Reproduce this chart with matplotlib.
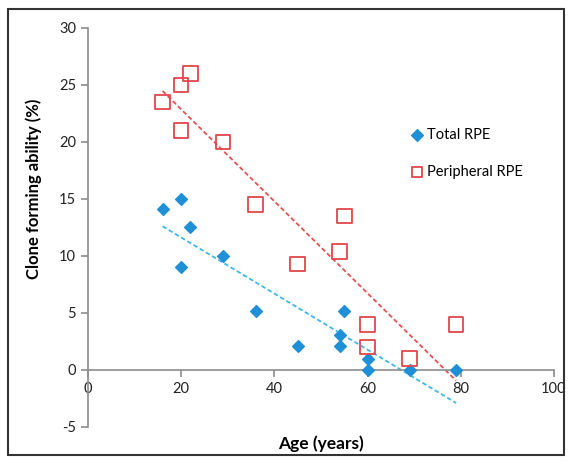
import numpy as np
import matplotlib.pyplot as plt
from matplotlib.patches import Rectangle

plt.rcParams['font.family'] = ['Lato', 'DejaVu Sans']
plt.rcParams['axes.unicode_minus'] = False

# data
age_total = [16, 20, 22, 20, 29, 36, 45, 54, 54, 55, 60, 60, 69, 79]
total_rpe = [14.1, 15, 12.5, 9, 10, 5.2, 2.1, 3.1, 2.1, 5.2, 1, 0, 0, 0]
age_periph = [16, 20, 22, 20, 29, 36, 45, 54, 55, 60, 60, 69, 79]
periph_rpe = [23.5, 25, 26, 21, 20, 14.5, 9.3, 10.4, 13.5, 4, 2, 1, 4]

blue = '#1f8fd6'
red = '#e2474c'

fig = plt.figure(figsize=(5.72, 4.61), dpi=100)
ax = fig.add_axes([0.1538, 0.0738, 0.8147, 0.8655])

# trendlines
for xs, ys, c in [(age_total, total_rpe, '#3cb8e8'), (age_periph, periph_rpe, '#e8504f')]:
    k, b = np.polyfit(xs, ys, 1)
    xx = np.array([min(xs), max(xs)])
    ax.plot(xx, k * xx + b, ls=(0, (2.5, 1.5)), color=c, lw=1.3)

ax.scatter(age_total, total_rpe, marker='D', s=36, color=blue, label='Total RPE', zorder=3)
ax.scatter(age_periph, periph_rpe, marker='s', s=110, facecolor='none', edgecolor=red,
           linewidth=1.3, label='Peripheral RPE', zorder=3)

ax.set_xlim(0, 100)
ax.set_ylim(-5, 30)
ax.set_xticks(range(0, 101, 20))
ax.set_yticks(range(-5, 31, 5))
ax.spines['bottom'].set_position(('data', 0))
ax.spines['top'].set_visible(False)
ax.spines['right'].set_visible(False)
for s in ['left', 'bottom']:
    ax.spines[s].set_color('#8c8c8c')
    ax.spines[s].set_linewidth(1.2)
ax.tick_params(colors='#8c8c8c', labelcolor='#222222', labelsize=10.5, length=5, width=1.2)

ax.set_xlabel('Age (years)', fontsize=12.5, fontweight='bold')
ax.xaxis.set_label_coords(0.5, -0.02)
ax.set_ylabel('Clone forming ability (%)', fontsize=12, fontweight='bold')
ax.yaxis.set_label_coords(-0.099, 0.597)

leg = ax.legend(loc='upper left', bbox_to_anchor=(0.675, 0.765), frameon=False,
                fontsize=10.5, handletextpad=0.1, labelspacing=1.6, borderaxespad=0,
                handlelength=1.2)
leg.legend_handles[1].set_sizes([55])

fig.patches.append(Rectangle((0.014, 0.013), 0.972, 0.968, transform=fig.transFigure,
                             fill=False, edgecolor='#333333', linewidth=1.5))

fig.savefig('out.png', dpi=100)
